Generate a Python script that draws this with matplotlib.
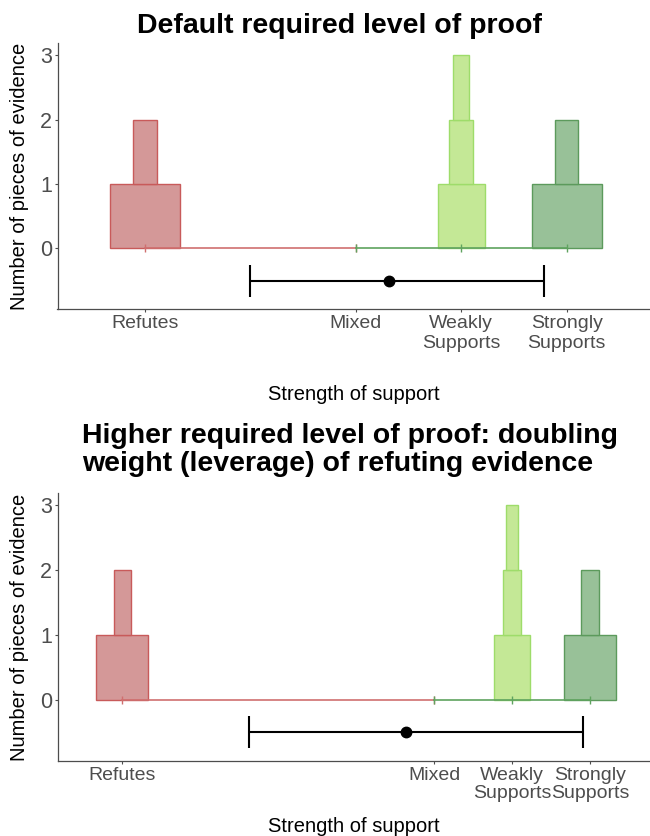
import numpy as np
import matplotlib
matplotlib.use("Agg")
import matplotlib.pyplot as plt

plt.rcParams['font.family'] = ['Liberation Sans', 'DejaVu Sans']

# categories and their x positions (refuting weight doubled in lower panel)
categories = ['Refutes', 'Mixed', 'Weakly\nSupports', 'Strongly\nSupports']
pos_default = [-2, 0, 1, 2]
pos_higher = [-4, 0, 1, 2]

# widths of the stacked pieces of evidence, bottom to top
refutes_w = [0.667, 0.222]
weak_w = [0.45, 0.227, 0.15]
strong_w = [0.667, 0.222]

# overall estimate: point, lower, upper
est_default = [0.313, -1.0, 1.785]
est_higher = [-0.364, -2.38, 1.914]
est_y = -0.5

xlim_default = (-2.83, 2.79)
xlim_higher = (-4.83, 2.77)

red_fill, red_edge = '#d49898', '#c85a5a'
lg_fill, lg_edge = '#c4e896', '#9edc6a'
dg_fill, dg_edge = '#98c198', '#5c9a5c'
red_line, green_line = '#cf6f6f', '#5fa35f'
grey = '#4d4d4d'


def panel(ax, pos, est, xlim, linesp):
    groups = [(pos[0], refutes_w, red_fill, red_edge),
              (pos[2], weak_w, lg_fill, lg_edge),
              (pos[3], strong_w, dg_fill, dg_edge)]
    for x, widths, fc, ec in groups:
        for k, w in enumerate(widths):
            ax.bar(x, 1, width=w, bottom=k, color=fc, edgecolor=ec,
                   linewidth=1.0, zorder=2)
    ax.plot(pos[:2], [0, 0], color=red_line, lw=1.2, marker='|', ms=6, zorder=3)
    ax.plot(pos[1:], [0, 0, 0], color=green_line, lw=1.2, marker='|', ms=6, zorder=3)
    ax.errorbar(est[0], est_y, xerr=[[est[0] - est[1]], [est[2] - est[0]]],
                fmt='o', color='black', ms=7.5, lw=1.5, capsize=11.5,
                capthick=1.5, zorder=4)
    ax.set_xlim(*xlim)
    ax.set_ylim(-0.94, 3.19)
    ax.set_xticks(pos, categories)
    ax.set_yticks([0, 1, 2, 3])
    ax.tick_params(axis='both', length=2.5, width=0.8, color=grey,
                   labelcolor=grey, pad=1.5)
    ax.tick_params(axis='x', labelsize=14)
    ax.tick_params(axis='y', labelsize=15.5)
    for lbl in ax.get_xticklabels():
        lbl.set_linespacing(linesp)
    for s in ['top', 'right']:
        ax.spines[s].set_visible(False)
    for s in ['left', 'bottom']:
        ax.spines[s].set_color(grey)
        ax.spines[s].set_linewidth(0.9)
    ax.set_ylabel('Number of pieces of evidence', fontsize=14.5, va='center')
    ax.yaxis.set_label_coords(-0.064, 0.5)
    ax.set_xlabel('Strength of support', fontsize=14.5)


fig = plt.figure(figsize=(6.5, 8.36), dpi=100)
ax1 = fig.add_axes([57.5 / 650, (836 - 309) / 836, 592.5 / 650, 266 / 836])
ax2 = fig.add_axes([57.5 / 650, (836 - 761) / 836, 592.5 / 650, 268 / 836])

panel(ax1, pos_default, est_default, xlim_default, 1.3)
panel(ax2, pos_higher, est_higher, xlim_higher, 1.1)
ax1.xaxis.set_label_coords(0.5, -0.286)
ax2.xaxis.set_label_coords(0.5, -0.209)

fig.text(137.3 / 650, 1 - 33.3 / 836, 'Default required level of proof',
         fontsize=20.5, fontweight='bold', ha='left', va='baseline')
fig.text(81.7 / 650, 1 - 443.3 / 836, 'Higher required level of proof: doubling',
         fontsize=20.5, fontweight='bold', ha='left', va='baseline')
fig.text(81.7 / 650, 1 - 471 / 836, 'weight (leverage) of refuting evidence',
         fontsize=20.5, fontweight='bold', ha='left', va='baseline')

fig.savefig('out.png', dpi=100)
